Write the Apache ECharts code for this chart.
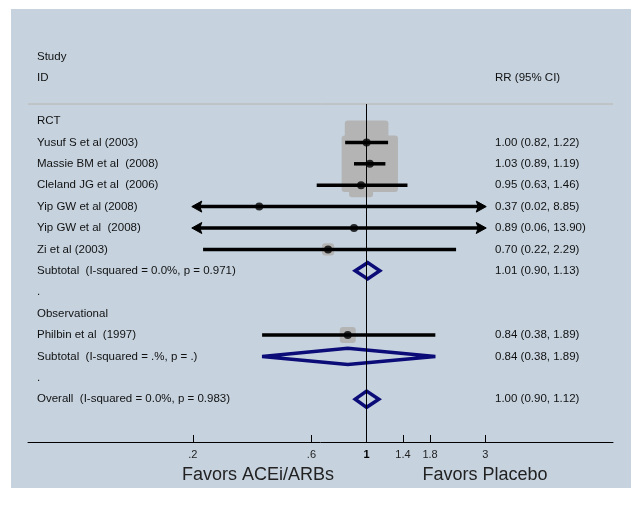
<!DOCTYPE html>
<html><head><meta charset="utf-8">
<script src="https://cdn.jsdelivr.net/npm/echarts@6/dist/echarts.min.js"></script>
<style>html,body{margin:0;padding:0;background:#fff}#c{width:631px;height:506px}</style>
</head><body><div id="c"></div>
<script>
// ---- data ----
const studyLabels = ['Yusuf S et al (2003)', 'Massie BM et al  (2008)', 'Cleland JG et al  (2006)', 'Yip GW et al (2008)', 'Yip GW et al  (2008)', 'Zi et al (2003)', 'Philbin et al  (1997)'];
const studyRows = [1, 2, 3, 4, 5, 6, 10];
const studyRR = [1.00, 1.03, 0.95, 0.37, 0.89, 0.70, 0.84];
const studyLo = [0.82, 0.89, 0.63, 0.02, 0.06, 0.22, 0.38];
const studyHi = [1.22, 1.19, 1.46, 8.85, 13.90, 2.29, 1.89];
const studyWeights = [31.4, 52.4, 9.5, 0.05, 0.1, 2.4, 4.2];
const pooledLabels = ['Subtotal  (I-squared = 0.0%, p = 0.971)', 'Subtotal  (I-squared = .%, p = .)', 'Overall  (I-squared = 0.0%, p = 0.983)'];
const pooledRows = [7, 11, 13];
const pooledRR = [1.01, 0.84, 1.00];
const pooledLo = [0.90, 0.38, 0.90];
const pooledHi = [1.13, 1.89, 1.12];
const groupLabels = ['RCT', '.', 'Observational', '.'];
const groupRows = [0, 8, 9, 12];
const headerLeft = ['Study', 'ID'];
const headerLeftRows = [-3, -2];
const headerRight = 'RR (95% CI)';
const headerRightRow = -2;
const tickValues = [0.2, 0.6, 1, 1.4, 1.8, 3];
const tickLabels = ['.2', '.6', '1', '1.4', '1.8', '3'];
const favorLabels = ['Favors ACEi/ARBs', 'Favors Placebo'];
const nullValue = 1;

// ---- build ----
const FONT = '"Liberation Sans", Arial, sans-serif';
const ln = Math.log;
const fmt = (r, l, h) => r.toFixed(2) + ' (' + l.toFixed(2) + ', ' + h.toFixed(2) + ')';
const clipLo = ln(Math.min(...tickValues));
const clipHi = ln(Math.max(...tickValues));
const X_MIN = -3.1352, X_MAX = 2.2815;

const leftTexts = [];
headerLeft.forEach((t, i) => leftTexts.push({ row: headerLeftRows[i], text: t }));
groupLabels.forEach((t, i) => leftTexts.push({ row: groupRows[i], text: t }));
studyLabels.forEach((t, i) => leftTexts.push({ row: studyRows[i], text: t }));
pooledLabels.forEach((t, i) => leftTexts.push({ row: pooledRows[i], text: t }));

const rightTexts = [{ row: headerRightRow, text: headerRight }];
studyLabels.forEach((t, i) => rightTexts.push({ row: studyRows[i], text: fmt(studyRR[i], studyLo[i], studyHi[i]) }));
pooledLabels.forEach((t, i) => rightTexts.push({ row: pooledRows[i], text: fmt(pooledRR[i], pooledLo[i], pooledHi[i]) }));

function textSeries(items, dx) {
  return {
    type: 'custom', z: 5, silent: true,
    data: items.map(d => [0, d.row]),
    renderItem: (params, api) => {
      const y = api.coord([0, api.value(1)])[1];
      return {
        type: 'text',
        style: {
          text: items[params.dataIndex].text,
          x: params.coordSys.x + dx, y: y,
          verticalAlign: 'middle', align: 'left',
          font: '11.5px ' + FONT, fill: '#111'
        }
      };
    }
  };
}

const chart = echarts.init(document.getElementById('c'), null, { renderer: 'canvas' });
chart.setOption({
  backgroundColor: '#ffffff',
  animation: false,
  grid: { left: 28, right: 18, top: 35.4, bottom: 64 },
  xAxis: {
    type: 'value', min: X_MIN, max: X_MAX,
    axisLine: { show: true, onZero: false, lineStyle: { color: '#000', width: 1 } },
    axisTick: { show: true, inside: true, length: 7, customValues: tickValues.map(ln), lineStyle: { color: '#000', width: 1 } },
    axisLabel: {
      customValues: tickValues.map(ln), margin: 7, fontSize: 11, color: '#222', fontFamily: FONT,
      formatter: v => {
        const i = tickValues.findIndex(t => Math.abs(ln(t) - v) < 1e-6);
        const s = i >= 0 ? tickLabels[i] : '';
        return tickValues[i] === nullValue ? '{b|' + s + '}' : s;
      },
      rich: { b: { fontWeight: 'bold', fontSize: 11, color: '#000', fontFamily: FONT } }
    },
    splitLine: { show: false }
  },
  yAxis: { type: 'value', inverse: true, min: -4, max: 15, show: false },
  graphic: [
    { type: 'rect', z: -10, silent: true, shape: { x: 11, y: 9, width: 620, height: 479 }, style: { fill: '#c6d3df' } },
    { type: 'line', z: -5, silent: true, shape: { x1: 28, y1: 104, x2: 613, y2: 104 }, style: { stroke: '#b8b4ab', lineWidth: 1 } },
    { type: 'text', silent: true, style: { text: favorLabels[0], x: 258, y: 475, align: 'center', verticalAlign: 'middle', font: '18px ' + FONT, fill: '#222' } },
    { type: 'text', silent: true, style: { text: favorLabels[1], x: 485, y: 475, align: 'center', verticalAlign: 'middle', font: '18px ' + FONT, fill: '#222' } }
  ],
  series: [
    { // null line
      type: 'line', z: 1, data: [], silent: true,
      markLine: {
        silent: true, symbol: 'none', label: { show: false },
        lineStyle: { color: '#000', width: 1, type: 'solid' },
        data: [[{ coord: [ln(nullValue), -0.794] }, { coord: [ln(nullValue), 15] }]]
      }
    },
    { // weight boxes
      type: 'custom', z: 2, silent: true,
      data: studyRR.map((r, i) => [ln(r), studyRows[i], studyWeights[i]]),
      renderItem: (params, api) => {
        const c = api.coord([api.value(0), api.value(1)]);
        const rowPx = api.size([0, 1])[1];
        const s = rowPx * 0.364 * Math.sqrt(api.value(2));
        return { type: 'rect', shape: { x: c[0] - s / 2, y: c[1] - s / 2, width: s, height: s, r: 3 }, style: { fill: '#b4b4b4' } };
      }
    },
    { // CI lines with arrows when clipped
      type: 'custom', z: 3, silent: true,
      data: studyLo.map((l, i) => [ln(l), ln(studyHi[i]), studyRows[i]]),
      encode: { x: [0, 1], y: 2 },
      renderItem: (params, api) => {
        const lo = api.value(0), hi = api.value(1), row = api.value(2);
        const a = api.coord([Math.max(lo, clipLo), row]);
        const b = api.coord([Math.min(hi, clipHi), row]);
        const y = a[1];
        let x1 = a[0], x2 = b[0];
        const children = [];
        const AL = 9, AH = 5.5;
        if (lo < clipLo) {
          children.push({ type: 'polygon', shape: { points: [[x1 - 1, y], [x1 + AL, y - AH], [x1 + AL - 2, y], [x1 + AL, y + AH]] }, style: { fill: '#000', stroke: '#000', lineWidth: 1, lineJoin: 'round' } });
          x1 += AL - 2;
        }
        if (hi > clipHi) {
          children.push({ type: 'polygon', shape: { points: [[x2 + 1, y], [x2 - AL, y - AH], [x2 - AL + 2, y], [x2 - AL, y + AH]] }, style: { fill: '#000', stroke: '#000', lineWidth: 1, lineJoin: 'round' } });
          x2 -= AL - 2;
        }
        children.unshift({ type: 'line', shape: { x1: x1, y1: y, x2: x2, y2: y }, style: { stroke: '#000', lineWidth: 3.5 } });
        return { type: 'group', children };
      }
    },
    { // point estimates
      type: 'scatter', z: 4, silent: true, symbol: 'circle', symbolSize: 8,
      itemStyle: { color: '#000' },
      data: studyRR.map((r, i) => [ln(r), studyRows[i]])
    },
    { // pooled diamonds
      type: 'custom', z: 3, silent: true,
      data: pooledRR.map((r, i) => [ln(pooledLo[i]), ln(r), ln(pooledHi[i]), pooledRows[i]]),
      encode: { x: [0, 2], y: 3 },
      renderItem: (params, api) => {
        const row = api.value(3);
        const pl = api.coord([api.value(0), row]);
        const pm = api.coord([api.value(1), row]);
        const ph = api.coord([api.value(2), row]);
        const h = api.size([0, 1])[1] * 0.38;
        return {
          type: 'polygon',
          shape: { points: [[pl[0], pl[1]], [pm[0], pm[1] - h], [ph[0], ph[1]], [pm[0], pm[1] + h]] },
          style: { fill: 'none', stroke: '#0c0c78', lineWidth: 3.5, lineJoin: 'miter' }
        };
      }
    },
    textSeries(leftTexts, 9),
    textSeries(rightTexts, 467)
  ]
});
</script>
</body></html>
